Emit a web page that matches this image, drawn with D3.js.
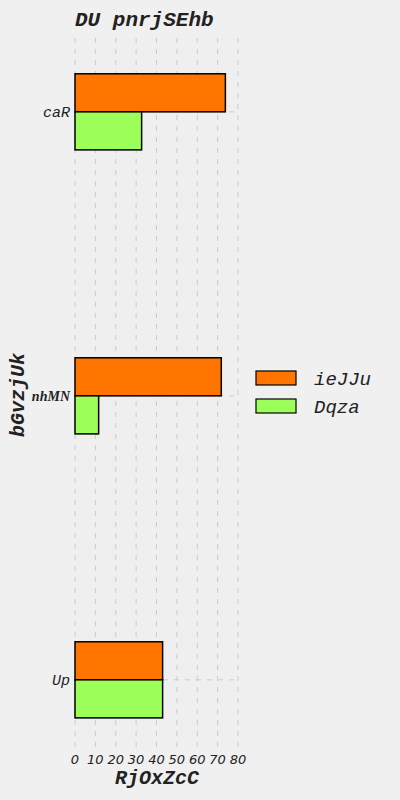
<!DOCTYPE html>
<html><head><meta charset="utf-8">
<script src="https://cdn.jsdelivr.net/npm/d3@7"></script>
<style>body{margin:0;background:#f0f0f0;}svg{display:block;}</style>
</head><body>
<script>
const categories = ["caR", "nhMN", "Up"];
const seriesNames = ["ieJJu", "Dqza"];
const ieJJu = [73.8, 71.8, 43.0];
const Dqza = [32.7, 11.6, 43.0];
const xTicks = [0, 10, 20, 30, 40, 50, 60, 70, 80];
const colors = ["#ff7500", "#9cff5a"];
const title = "DU pnrjSEhb";
const xLabel = "RjOxZcC";
const yLabel = "bGvzjUk";

const W = 400, H = 800;
const svg = d3.select("body").append("svg").attr("width", W).attr("height", H);
svg.append("rect").attr("width", W).attr("height", H).attr("fill", "#f0f0f0");

const pL = 75, pR = 238, pT = 38, pB = 748;
const x = d3.scaleLinear().domain([0, 80]).range([pL, pR]);
const pos = d3.scaleLinear().domain([-0.24, 2.26]).range([pB, pT]);
const catIndex = c => categories.length - 1 - categories.indexOf(c);
const barH = 0.134;

svg.append("rect").attr("x", pL).attr("y", pT).attr("width", pR - pL).attr("height", pB - pT).attr("fill", "#efefef");

const mono = "'Liberation Mono','Courier New',monospace";
const serif = "'Liberation Serif','Times New Roman',serif";
const tickFont = { caR: [mono, 15, "normal"], nhMN: [serif, 14, "bold"], Up: [mono, 15, "normal"] };

const g = svg.append("g");
g.selectAll(".vg").data(xTicks).join("line")
  .attr("x1", d => x(d)).attr("x2", d => x(d)).attr("y1", pT).attr("y2", pB)
  .attr("stroke", "#cbcbcb").attr("stroke-width", 1).attr("stroke-dasharray", "5,6");
g.selectAll(".hg").data(categories).join("line")
  .attr("x1", pL).attr("x2", pR).attr("y1", d => pos(catIndex(d))).attr("y2", d => pos(catIndex(d)))
  .attr("stroke", "#cbcbcb").attr("stroke-width", 1).attr("stroke-dasharray", "5,6");

const series = [ieJJu, Dqza];
series.forEach((vals, si) => {
  svg.append("g").selectAll("rect").data(categories).join("rect")
    .attr("x", x(0))
    .attr("y", (c) => si === 0 ? pos(catIndex(c) + barH) : pos(catIndex(c)))
    .attr("width", (c, i) => x(vals[i]) - x(0))
    .attr("height", pos(0) - pos(barH))
    .attr("fill", colors[si]).attr("stroke", "#000").attr("stroke-width", 1.5);
});

svg.append("g").selectAll("text").data(categories).join("text")
  .attr("x", 70).attr("y", c => pos(catIndex(c))).attr("dy", "0.35em")
  .attr("text-anchor", "end").attr("font-family", d => tickFont[d][0])
  .attr("font-style", "italic").attr("font-weight", d => tickFont[d][2]).attr("font-size", d => tickFont[d][1]).attr("fill", "#222")
  .text(d => d);

svg.append("g").selectAll("text").data(xTicks).join("text")
  .attr("x", d => x(d)).attr("y", 764).attr("text-anchor", "middle")
  .attr("font-family", "'DejaVu Sans',sans-serif").attr("font-style", "italic")
  .attr("font-size", 13).attr("fill", "#222").text(d => d);

svg.append("text").attr("x", 75).attr("y", 26).attr("font-family", mono)
  .attr("font-weight", "bold").attr("font-style", "italic").attr("font-size", 21).attr("fill", "#222").text(title);
svg.append("text").attr("x", 157).attr("y", 784).attr("text-anchor", "middle").attr("font-family", mono)
  .attr("font-weight", "bold").attr("font-style", "italic").attr("font-size", 20).attr("fill", "#222").text(xLabel);
svg.append("text").attr("transform", "translate(24,395) rotate(-90)").attr("text-anchor", "middle").attr("font-family", mono)
  .attr("font-weight", "bold").attr("font-style", "italic").attr("font-size", 20).attr("fill", "#222").text(yLabel);

const lg = svg.append("g");
seriesNames.forEach((n, i) => {
  lg.append("rect").attr("x", 256).attr("y", 371 + i * 28).attr("width", 40).attr("height", 14)
    .attr("fill", colors[i]).attr("stroke", "#000").attr("stroke-width", 1.2);
  lg.append("text").attr("x", 314).attr("y", 378 + i * 28).attr("dy", "0.35em").attr("font-family", mono)
    .attr("font-style", "italic").attr("font-size", 19).attr("fill", "#222").text(n);
});
</script>
</body></html>
